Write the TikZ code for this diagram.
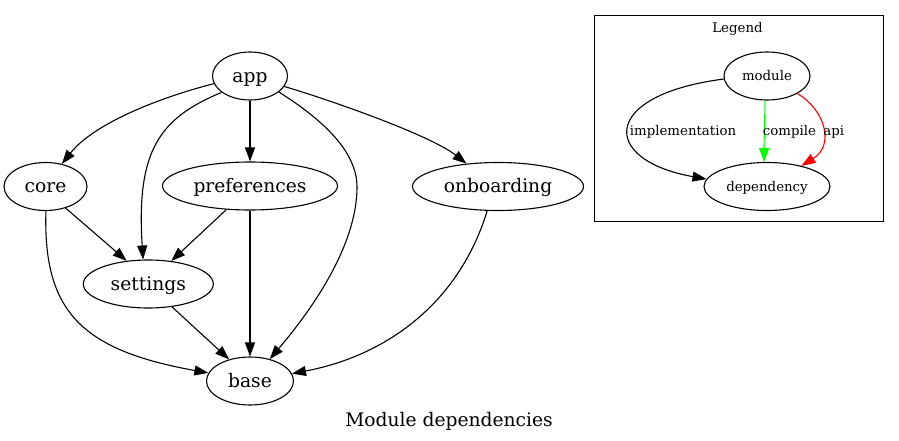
\documentclass[tikz,border=0pt]{standalone}
\usepackage{fontspec}
\setmainfont{DejaVu Serif}
\usetikzlibrary{arrows.meta,shapes.geometric}
\definecolor{gvgreen}{RGB}{0,255,0}
\definecolor{gvred}{RGB}{255,0,0}
\begin{document}
\begin{tikzpicture}[x=1pt,y=-1pt,
  mod/.style={draw, ellipse, line width=1.1pt, inner sep=0pt, minimum height=48pt,
    font=\fontsize{18.67}{22}\selectfont, text height=16pt, text depth=3.2pt},
  leg/.style={draw, ellipse, line width=1.1pt, inner sep=0pt, minimum height=48pt,
    font=\fontsize{13.33}{16}\selectfont, text height=11.5pt, text depth=2.3pt},
  dep/.style={line width=1.1pt, -{Triangle[length=14pt,width=10pt]}},
  lbl/.style={font=\fontsize{13.33}{16}\selectfont, inner sep=0pt, text height=11.5pt, text depth=2.3pt},
  ttl/.style={font=\fontsize{18.67}{22}\selectfont, inner sep=0pt, text height=16pt, text depth=3.2pt}]
\useasboundingbox (0,0) rectangle (899,441);
% main graph
\node[mod, minimum width=75pt] (app) at (250,76) {app};
\node[mod, minimum width=83pt] (core) at (45.5,186.5) {core};
\node[mod, minimum width=175pt] (pref) at (250,186) {preferences};
\node[mod, minimum width=171pt] (onb) at (498,186.5) {onboarding};
\node[mod, minimum width=130pt] (set) at (148.3,284) {settings};
\node[mod, minimum width=87pt] (base) at (250,381) {base};
\coordinate (w1) at (357,187);

\draw[dep] (app.192.5) .. controls (165,96) and (95,122) .. (core.54.5);
\draw[dep] (app.210) .. controls (160,118) and (136,150) .. (set.102.5);
\draw[dep] (app.south) -- (pref.north);
\draw[dep] (app.331) .. controls (320,118) and (357,150) .. (w1) .. controls (357,240) and (320,300) .. (base.48.8);
\draw[dep] (app.343) .. controls (330,100) and (430,135) .. (onb.144.9);
\draw[dep] (core.313.5) -- (set.133.7);
\draw[dep] (pref.225.8) -- (set.45.4);
\draw[dep] (pref.south) -- (base.north);
\draw[dep] (set.316.2) -- (base.134.6);
\draw[dep] (core.271) .. controls (43,310) and (80,350) .. (base.169.9);
\draw[dep] (onb.246.6) .. controls (460,300) and (390,355) .. (base.10.5);

\node[ttl] (title) at (449,420) {Module dependencies};

% legend
\draw[line width=0.9pt] (594,15) rectangle (883,221);
\node[lbl] (legt) at (737.5,28) {Legend};
\node[leg, minimum width=86pt] (module) at (767,76) {module};
\node[leg, minimum width=126pt] (dependency) at (767,186.5) {dependency};
\draw[dep] (module.184.9) .. controls (600,95) and (600,160) .. (dependency.173.5);
\draw[dep, gvgreen] (module.265.5) .. controls (765,120) and (764,140) .. (dependency.97.4);
\draw[dep, gvred] (module.330.3) .. controls (825,110) and (835,145) .. (dependency.31.7);
\node[lbl] (limpl) at (683,131) {implementation};
\node[lbl] (lcomp) at (789.5,131) {compile};
\node[lbl] (lapi) at (833.7,131) {api};
\end{tikzpicture}
\end{document}
